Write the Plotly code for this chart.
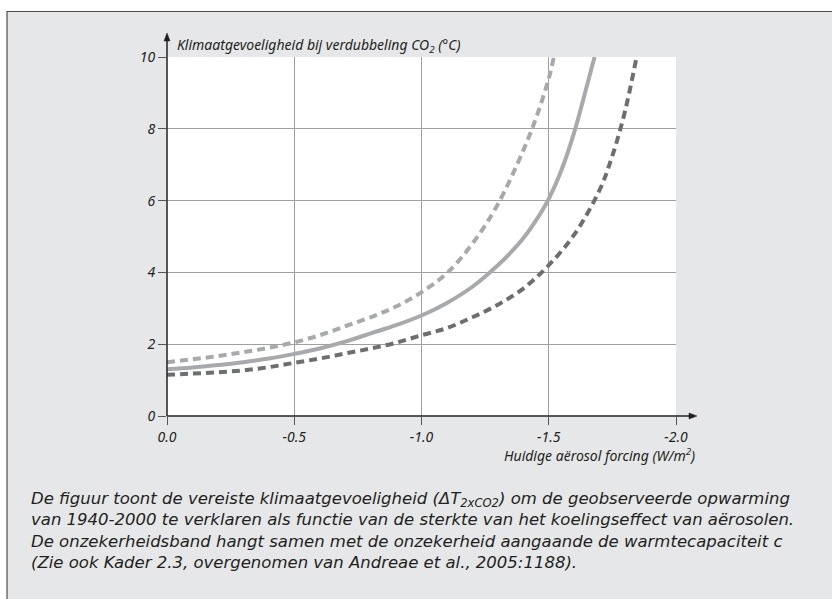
import plotly.graph_objects as go

# Current aerosol forcing (W/m2) and required climate sensitivity (degC)
forcing_high = [0.0, -0.1, -0.2, -0.3, -0.4, -0.5, -0.6, -0.7, -0.8, -0.9, -1.0,
                -1.1, -1.2, -1.3, -1.4, -1.45, -1.5, -1.52]
sens_high = [1.5, 1.58, 1.67, 1.78, 1.9, 2.05, 2.25, 2.5, 2.75, 3.05, 3.45,
             3.98, 4.8, 5.9, 7.4, 8.3, 9.4, 10.0]

forcing_mid = [0.0, -0.1, -0.2, -0.3, -0.4, -0.5, -0.6, -0.7, -0.8, -0.9, -1.0,
               -1.1, -1.2, -1.3, -1.35, -1.4, -1.45, -1.5, -1.55, -1.6, -1.65, -1.68]
sens_mid = [1.3, 1.35, 1.42, 1.5, 1.6, 1.73, 1.88, 2.07, 2.3, 2.53, 2.8,
            3.15, 3.6, 4.2, 4.55, 4.95, 5.45, 6.05, 6.85, 7.9, 9.2, 10.0]

forcing_low = [0.0, -0.1, -0.2, -0.3, -0.4, -0.5, -0.6, -0.7, -0.8, -0.9, -1.0,
               -1.1, -1.2, -1.3, -1.4, -1.5, -1.6, -1.7, -1.75, -1.8, -1.845]
sens_low = [1.15, 1.18, 1.22, 1.27, 1.36, 1.48, 1.6, 1.74, 1.88, 2.04, 2.25,
            2.45, 2.75, 3.1, 3.55, 4.2, 5.05, 6.3, 7.25, 8.5, 10.0]

x_ticks = [0.0, -0.5, -1.0, -1.5, -2.0]
x_tick_labels = ["0.0", "-0.5", "-1.0", "-1.5", "-2.0"]
y_ticks = [0, 2, 4, 6, 8, 10]
y_tick_labels = ["0", "2", "4", "6", "8", "10"]

y_title = "Klimaatgevoeligheid bij verdubbeling CO<sub>2</sub> (°C)"
x_title = "Huidige aërosol forcing (W/m<sup>2</sup>)"
caption_lines = [
    "De figuur toont de vereiste klimaatgevoeligheid (ΔT<sub>2xCO2</sub>) om de geobserveerde opwarming",
    "van 1940-2000 te verklaren als functie van de sterkte van het koelingseffect van aërosolen.",
    "De onzekerheidsband hangt samen met de onzekerheid aangaande de warmtecapaciteit c",
    "(Zie ook Kader 2.3, overgenomen van Andreae et al., 2005:1188).",
]

LIGHT = "#a7a9ac"
DARK = "#6d6e71"
PANEL = "#e6e7e8"
FONT = "Noto Sans"
CAPTION_FONT = "DejaVu Sans"
TXT = "#231f20"
AXIS = "#231f20"

# Page geometry (pixels)
W, H = 832, 599
ml, mr, mt, mb = 167, 156, 57, 183
pw, ph = W - ml - mr, H - mt - mb


def px_x(px):
    """Horizontal pixel position -> paper coordinate."""
    return (px - ml) / pw


def px_y(py):
    """Vertical pixel position (from top) -> paper coordinate."""
    return (H - mb - py) / ph


def italic(s):
    return "<i>" + s + "</i>"


def tri(points):
    """Closed SVG path through pixel points, in paper coordinates."""
    pts = [f"{px_x(x):.5f},{px_y(y):.5f}" for x, y in points]
    return "M " + " L ".join(pts) + " Z"


fig = go.Figure()
fig.add_trace(go.Scatter(x=forcing_high, y=sens_high, mode="lines",
                         line=dict(color=LIGHT, width=4, dash="8px,5px", shape="spline"),
                         showlegend=False, hoverinfo="skip"))
fig.add_trace(go.Scatter(x=forcing_mid, y=sens_mid, mode="lines",
                         line=dict(color=LIGHT, width=4, shape="spline"),
                         showlegend=False, hoverinfo="skip"))
fig.add_trace(go.Scatter(x=forcing_low, y=sens_low, mode="lines",
                         line=dict(color=DARK, width=4, dash="8px,5px", shape="spline"),
                         showlegend=False, hoverinfo="skip"))

tick_font = dict(family=FONT, size=14, color=TXT)

fig.update_xaxes(range=[0, -2.0], tickvals=x_ticks,
                 ticktext=[italic(t) for t in x_tick_labels],
                 showgrid=True, gridcolor="#a0a0a0", gridwidth=1,
                 zeroline=False, showline=False,
                 ticks="outside", ticklen=8, tickcolor="#555555", tickwidth=1,
                 tickfont=tick_font, fixedrange=True)
fig.update_yaxes(range=[0, 10], tickvals=y_ticks,
                 ticktext=[italic(t) for t in y_tick_labels],
                 showgrid=True, gridcolor="#a0a0a0", gridwidth=1,
                 zeroline=False, showline=False,
                 ticks="outside", ticklen=8, tickcolor="#555555", tickwidth=1,
                 tickfont=tick_font, fixedrange=True)

annotations = [
    dict(x=px_x(175), y=px_y(45), xref="paper", yref="paper",
         xanchor="left", yanchor="middle", text=italic(y_title), showarrow=False,
         font=dict(family=FONT, size=14, color=TXT)),
    dict(x=px_x(697), y=px_y(455), xref="paper", yref="paper",
         xanchor="right", yanchor="middle", text=italic(x_title), showarrow=False,
         font=dict(family=FONT, size=14, color=TXT)),
    # caption below the chart, one text block
    dict(x=px_x(29), y=px_y(498 + 1.5 * 21.5), xref="paper", yref="paper",
         xanchor="left", yanchor="middle", align="left",
         text=italic("<br>".join(caption_lines)), showarrow=False,
         font=dict(family=CAPTION_FONT, size=16.5, color=TXT)),
]

shapes = [
    # grey panel with dark border
    dict(type="rect", xref="paper", yref="paper",
         x0=px_x(7), x1=px_x(W + 5), y0=px_y(H + 5), y1=px_y(11.5),
         fillcolor=PANEL, line=dict(color="#4d4d4d", width=1.2), layer="below"),
    # white plotting area
    dict(type="rect", xref="paper", yref="paper", x0=0, x1=1, y0=0, y1=1,
         fillcolor="white", line=dict(width=0), layer="below"),
    # y axis with arrowhead
    dict(type="line", xref="paper", yref="paper", x0=0, x1=0,
         y0=0, y1=px_y(39), line=dict(color=AXIS, width=1.5)),
    dict(type="path", xref="paper", yref="paper",
         path=tri([(167, 33), (164, 41), (170, 41)]),
         fillcolor=AXIS, line=dict(color=AXIS, width=0.5)),
    # x axis with arrowhead
    dict(type="line", xref="paper", yref="paper", x0=0, x1=px_x(691),
         y0=0, y1=0, line=dict(color=AXIS, width=1.5)),
    dict(type="path", xref="paper", yref="paper",
         path=tri([(697, 416), (689, 413), (689, 419)]),
         fillcolor=AXIS, line=dict(color=AXIS, width=0.5)),
]

fig.update_layout(
    width=W, height=H,
    margin=dict(l=ml, r=mr, t=mt, b=mb, pad=0),
    paper_bgcolor="white", plot_bgcolor="rgba(0,0,0,0)",
    shapes=shapes, annotations=annotations,
    font=dict(family=FONT, color=TXT),
)

fig.write_html("out.html")
